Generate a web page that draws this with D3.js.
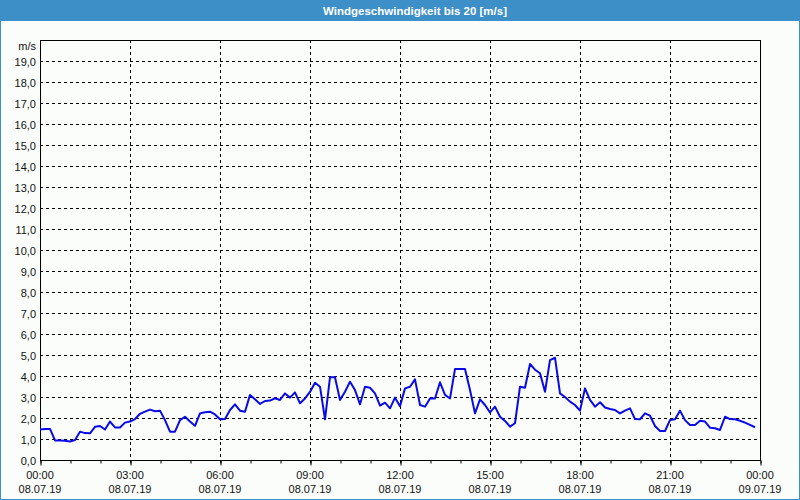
<!DOCTYPE html>
<html>
<head>
<meta charset="utf-8">
<script src="https://cdn.jsdelivr.net/npm/d3@7"></script>
<style>
html,body{margin:0;padding:0;background:#fbfdfb;}
svg{display:block;}
</style>
</head>
<body>
<svg id="chart" width="800" height="500"></svg>
<script>
const title = "Windgeschwindigkeit bis 20 [m/s]";
const unitLabel = "m/s";
const startTime = "2019-07-08T00:00:00";
const endTime = "2019-07-09T00:00:00";
const stepMinutes = 10;
const windSpeed = [
  1.45,1.48,1.48,0.93,0.93,0.92,0.88,0.95,1.35,1.28,1.27,1.58,1.62,1.45,1.83,1.55,
  1.55,1.78,1.83,1.95,2.20,2.30,2.40,2.32,2.35,1.90,1.35,1.35,1.90,2.06,1.83,1.63,
  2.22,2.27,2.30,2.17,1.94,1.95,2.38,2.65,2.35,2.30,3.10,2.89,2.67,2.81,2.83,2.94,
  2.86,3.17,2.97,3.22,2.70,2.93,3.24,3.68,3.49,1.94,3.94,3.94,2.86,3.25,3.73,3.33,
  2.65,3.49,3.44,3.17,2.59,2.73,2.46,2.97,2.56,3.41,3.49,3.84,2.62,2.54,2.93,2.93,
  3.70,3.10,2.93,4.33,4.33,4.33,3.33,2.22,2.89,2.62,2.27,2.54,2.06,1.86,1.59,1.75,
  3.49,3.44,4.57,4.30,4.13,3.25,4.76,4.87,3.17,3.00,2.78,2.62,2.35,3.41,2.86,2.54,
  2.75,2.50,2.43,2.38,2.22,2.35,2.46,1.95,1.94,2.22,2.11,1.62,1.38,1.38,1.90,1.94,
  2.35,1.90,1.67,1.67,1.87,1.83,1.54,1.51,1.43,2.06,1.95,1.94,1.87,1.78,1.67,1.56
];
const yTicks = [0,1,2,3,4,5,6,7,8,9,10,11,12,13,14,15,16,17,18,19];
const yMax = 20;
const xMajorTickLabels = [
  ["00:00","08.07.19"],["03:00","08.07.19"],["06:00","08.07.19"],["09:00","08.07.19"],
  ["12:00","08.07.19"],["15:00","08.07.19"],["18:00","08.07.19"],["21:00","08.07.19"],
  ["00:00","09.07.19"]
];

const W = 800, H = 500;
const m = {left:40, right:40, top:40, bottom:40};
const svg = d3.select("#chart");
const font = "'Liberation Sans', Arial, sans-serif";

// background + window frame
svg.append("rect").attr("x",0).attr("y",0).attr("width",W).attr("height",H).attr("fill","#fbfdfb");
svg.append("rect").attr("x",0.5).attr("y",0.5).attr("width",W-1).attr("height",H-1)
  .attr("fill","none").attr("stroke","#3c8fc7").attr("stroke-width",1);
svg.append("rect").attr("x",0).attr("y",0).attr("width",W).attr("height",21).attr("fill","#3c8fc7");
svg.append("text").attr("x",W/2+15).attr("y",14.5).attr("text-anchor","middle")
  .attr("font-family",font).attr("font-weight","bold").attr("font-size","11.5px")
  .attr("fill","#ffffff").text(title);

const t0 = new Date(startTime), t1 = new Date(endTime);
const data = windSpeed.map((v,i)=>({t:new Date(t0.getTime()+i*stepMinutes*60000), v}));

const x = d3.scaleTime().domain([t0,t1]).range([m.left, W-m.right]);
const y = d3.scaleLinear().domain([0,yMax]).range([H-m.bottom, m.top]);

const fmt = v => d3.format(".1f")(v).replace(".", ",");

// horizontal grid
const g = svg.append("g");
g.selectAll("line.hg").data(yTicks.filter(d=>d>0)).join("line")
  .attr("x1",m.left).attr("x2",W-m.right)
  .attr("y1",d=>Math.round(y(d))+0.5).attr("y2",d=>Math.round(y(d))+0.5)
  .attr("stroke","#000").attr("stroke-width",1).attr("stroke-dasharray","3,3");

// vertical grid (3h)
const majorTimes = d3.timeHour.every(3).range(t0, new Date(t1.getTime()+1));
g.selectAll("line.vg").data(majorTimes.slice(1,-1)).join("line")
  .attr("x1",d=>Math.round(x(d))+0.5).attr("x2",d=>Math.round(x(d))+0.5)
  .attr("y1",m.top).attr("y2",H-m.bottom+5)
  .attr("stroke","#000").attr("stroke-width",1).attr("stroke-dasharray","3,3");

// x axis (minor hourly ticks)
const xAxisMinor = d3.axisBottom(x).ticks(d3.timeHour.every(1)).tickSize(3).tickFormat("");
const ax = svg.append("g").attr("transform",`translate(0.5,${H-m.bottom+0.5})`).call(xAxisMinor);
ax.select(".domain").remove();
ax.selectAll("line").attr("stroke","#000");

const xAxisMajor = d3.axisBottom(x).tickValues(majorTimes).tickSize(5).tickFormat("");
const ax2 = svg.append("g").attr("transform",`translate(0.5,${H-m.bottom+0.5})`).call(xAxisMajor);
ax2.select(".domain").remove();
ax2.selectAll("line").attr("stroke","#000");

// x labels
const xl = svg.append("g").attr("font-family",font).attr("font-size","11px").attr("fill","#000");
majorTimes.forEach((d,i)=>{
  const lab = xMajorTickLabels[i];
  xl.append("text").attr("x",x(d)).attr("y",479).attr("text-anchor","middle").attr("fill","#111").text(lab[0]);
  xl.append("text").attr("x",x(d)).attr("y",493).attr("text-anchor","middle").attr("fill","#111").text(lab[1]);
});

// y axis labels
const yAxis = d3.axisLeft(y).tickValues(yTicks).tickSize(0).tickPadding(4).tickFormat(fmt);
const ay = svg.append("g").attr("transform",`translate(${m.left},0)`).call(yAxis);
ay.select(".domain").remove();
ay.selectAll("text").attr("font-family",font).attr("font-size","11px").attr("fill","#111").attr("dy","0.45em");
svg.append("text").attr("x",m.left-4).attr("y",50).attr("text-anchor","end")
  .attr("font-family",font).attr("font-size","11px").attr("fill","#111").text(unitLabel);

// frame
svg.append("rect").attr("x",m.left+0.5).attr("y",m.top+0.5)
  .attr("width",W-m.left-m.right).attr("height",H-m.top-m.bottom)
  .attr("fill","none").attr("stroke","#000").attr("stroke-width",1);

// line
const line = d3.line().x(d=>x(d.t)).y(d=>y(d.v));
svg.append("path").datum(data).attr("d",line)
  .attr("fill","none").attr("stroke","#0a0ae6").attr("stroke-width",2)
  .attr("stroke-linejoin","round");
</script>
</body>
</html>
